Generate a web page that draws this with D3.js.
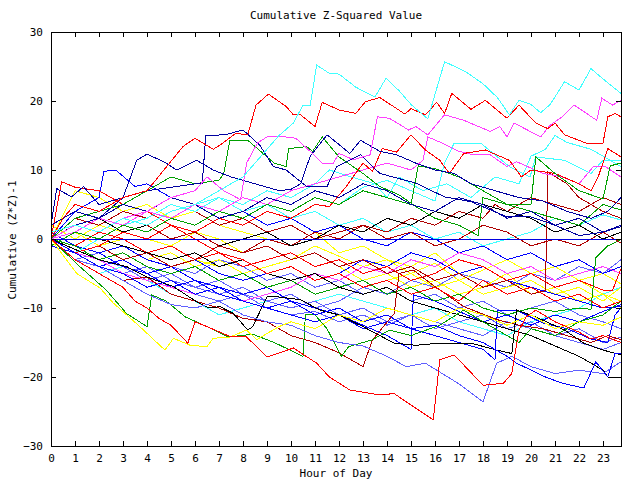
<!DOCTYPE html>
<html>
<head>
<meta charset="utf-8">
<script src="https://cdn.jsdelivr.net/npm/d3@7/dist/d3.min.js"></script>
<style>
  body { margin: 0; background: #fff; }
  svg text { font-family: "DejaVu Sans Mono", "Liberation Mono", monospace; font-size: 11px; fill: #000; }
</style>
</head>
<body>
<svg id="chart" width="640" height="480"></svg>
<script>
// tick values
const hourTicks = d3.range(0, 24);
const valueTicks = [-30, -20, -10, 0, 10, 20, 30];

// series as [hour, cumulative value]
const cyanTop = [[0,1],[1,2],[2,1],[3,3],[4,2],[5,4],[6,5],[7,7],[8,9],[9,13],[9.5,15],[10.1,16.8],[10.5,19.4],[10.8,19.4],[11.07,25.2],[11.6,24],[12,23.9],[12.7,22],[13.5,20.6],[13.96,23.3],[14.5,21.5],[15,19.5],[15.7,17.4],[16.4,25.7],[17.3,24.2],[18,22.5],[18.6,20.5],[19.1,18],[19.5,20.1],[20,19.5],[20.4,18.3],[20.8,19.5],[21.4,22.8],[22,21.6],[22.5,24.7],[23,23.2],[23.75,21.1]];
const redTop = [[0,0],[0.5,3],[1,5],[2,4],[3,6],[4,7],[4.26,8.1],[5.5,13.4],[6,14.6],[6.76,13],[7.04,13.6],[7.5,14.8],[7.7,15.3],[8.2,15.1],[8.54,19.4],[9.06,21],[9.8,19.2],[10.1,18],[10.4,18],[11,16.3],[11.3,19.8],[12,18.7],[12.7,18.2],[13.1,19.9],[13.7,20.5],[14.75,18.1],[15,18.9],[15.6,18],[16.07,19.8],[16.4,18.2],[16.7,21.1],[17.5,18.8],[18.1,20.1],[19,17.5],[19.5,19.4],[20.2,16.8],[20.7,16],[21,16.8],[21.4,15.1],[22.3,13.9],[23,13.9],[23.2,17.7],[23.5,18.2],[23.75,17.7]];
const magentaTop = [[0,0],[1,2],[2,1],[3,3],[4,4],[5,6],[6,7],[6.5,9],[7.2,7],[7.9,5.7],[8.15,11],[8.6,13.9],[9,14.8],[9.75,14.8],[10.2,14.6],[10.8,12.7],[11.3,11],[11.76,11],[12,12.4],[12.6,11.5],[13.3,12.2],[13.6,17.7],[14.1,17.5],[14.9,15.8],[15.2,16.3],[15.7,15.1],[16.4,18],[17.2,17.2],[18.3,15.6],[18.7,16.3],[19,14.8],[19.3,16.8],[20.4,14.8],[20.8,16.5],[21.3,17.7],[21.8,19.4],[22.74,17.2],[22.95,20.4],[23.4,19.4],[23.75,20.1]];
const navyA = [[0,2],[0.24,7.3],[0.86,6.1],[1.35,7.6],[2,5],[3,6],[4,7],[5,7.5],[6,8],[6.3,8],[6.45,15],[7.25,15.1],[8,15.8],[8.7,13.6],[9.26,10.5],[9.8,10],[10.65,7.6],[11.5,7.6],[11.9,10.5],[12.9,12.2],[13.7,9.5],[15.2,8.1],[16.4,6.1],[17.5,5.4],[19,3.2],[20,3.2],[21,2],[22,0.5],[23,1],[23.75,1.8]];
const navyB = [[0,1],[1,2],[2,3],[3,6],[3.57,11.4],[4,12.3],[4.7,11.2],[5.24,10],[6.07,11.4],[6.76,10],[7.5,9],[8.5,8],[9.5,7],[10,7.2],[10.4,8],[10.8,12],[11.5,15.1],[12,13.7],[12.45,12.4],[12.9,14.3],[13.7,12.7],[14.4,12.2],[15.2,11],[16,10],[16.8,9.5],[17.5,8],[18.5,7],[19.5,6],[20.5,5.5],[21.5,4],[22.5,3],[23.2,4],[23.75,6]];
const navyC = [[0,2],[1,4],[2,3],[3,5],[4,4],[5,6],[6,5],[7,3],[8,4],[9,6],[10,5],[11,7],[12,6],[13,8],[14,7],[15,5],[16,4],[17,6],[18,5],[19,3],[20,4],[21,2],[22,3],[23,1],[23.75,2]];
const greenA = [[0,0],[1,3],[2,4],[3,5],[4,7],[5,9],[6,8],[7,8.5],[7.2,9.5],[7.45,14.3],[8.2,14.3],[9.3,11],[9.8,10.5],[9.9,13.1],[10.65,13.4],[10.9,12.7],[11.3,14.8],[12,11.9],[13,9.5],[13.7,7.6],[14.5,6.4],[15.2,4.7],[16,3],[17,2],[17.8,0.5],[18,6],[19,5],[20,4],[21,3],[22,2],[23,5],[23.75,4.2]];
const greenB = [[0,-1],[1,1],[2,0],[3,2],[4,1],[5,3],[6,2],[7,4],[8,3],[9,5],[10,4],[11,6],[12,5],[13,7],[14,6],[15,5],[15.3,10.6],[16,10.2],[17,9],[18,7],[19,5],[20,5],[20.2,11.9],[21,9.5],[22,7],[23,5.8],[23.3,10.6],[23.75,11]];
const redB = [[0,0],[1,-2],[2,-1],[3,1],[4,0],[5,2],[6,1],[7,3],[8,2],[9,4],[10,3],[11,5],[11.6,4.7],[12.3,7.6],[13,11],[13.4,9.8],[13.8,13.1],[14.4,12.6],[15,15.1],[15.6,12.9],[16.2,11.4],[16.6,9.5],[17.2,12.4],[18.1,12.9],[19.1,11.4],[19.6,9],[20,10],[21,9.5],[22,8],[22.5,7],[22.8,9],[23.2,13.1],[23.75,11.9]];
const redC = [[0,0],[0.44,8.3],[1,7.5],[2,7],[3,5],[4,4],[5,2],[6,0],[7,-2],[8,-3],[9,-5],[10,-4],[11,-6],[12,-5],[13,-7],[14,-6],[15,-8],[16,-7],[17,-9],[18,-6],[19,-8],[20,-7],[21,-9],[22,-8],[23,-10],[23.75,-9]];
const redBottom = [[0,0],[1,-3],[2,-5],[3,-7],[3.5,-9],[4,-10],[4.5,-11.5],[5,-12.5],[5.7,-15.1],[6,-12],[6.5,-12.7],[7.5,-14.2],[8.15,-14.2],[9,-17.1],[10.1,-15.8],[11.07,-18],[11.6,-20],[12.46,-21.9],[13.7,-22.6],[14.3,-22.4],[14.8,-23.6],[15.93,-26.2],[16.2,-17.5],[16.8,-16.8],[18,-21.2],[18.85,-20.9],[19.2,-19.5],[19.5,-13.2],[19.8,-11.3],[20.2,-10.3],[21,-12],[22,-13.5],[22.5,-14.5],[23,-14],[23.75,-15]];
const yellowBottom = [[0,0],[1.07,-5],[2.04,-7.1],[2.6,-9.3],[3.7,-12.7],[4.75,-16.1],[5.1,-14.4],[5.8,-15.4],[6.5,-15.6],[6.76,-14.4],[7.45,-14.2],[8.15,-13.2],[8.57,-14.6],[9,-13.7],[9.5,-12.7],[10,-12],[11,-13],[12,-11],[13,-12],[14,-10],[15,-11],[16,-12],[17,-10],[18,-11],[19,-12.5],[20,-11],[21,-13],[22,-12],[23,-12.5],[23.75,-11.3]];
const blueBottom = [[0,0],[1,-2],[2,-4],[3,-5],[4,-7],[5,-6],[6,-8],[7,-7],[8,-9],[9,-10],[10,-9],[11,-11],[12,-10],[13,-12],[14,-11],[15,-13],[16,-12.5],[17,-14],[18,-15],[19,-17],[19.4,-18],[20.6,-20],[21.3,-20.9],[22.2,-21.6],[22.7,-17.8],[23.2,-20],[23.5,-16.6],[23.75,-16.6]];
const slateBottom = [[0,0],[1,-3],[2,-4],[3,-6],[4,-8],[5,-9.5],[6,-10],[7,-9],[8,-11],[9,-12],[10,-12.5],[11,-14],[12,-15],[13,-15.5],[14,-17],[14.8,-18.5],[15.6,-18],[16.3,-19.5],[17,-21],[18,-23.6],[18.57,-18],[19.2,-17],[20,-18.5],[21,-19.5],[22,-19],[23,-19.5],[23.75,-17.8]];
const blackA = [[0,0],[1,-1.5],[2,-3],[3.15,-4],[4,-5.5],[5.1,-6.9],[6.07,-9.1],[6.6,-10],[7.04,-9.8],[7.6,-10.8],[8.2,-13.2],[8.4,-12.7],[9,-8.4],[9.5,-8.4],[10.4,-8.8],[11.2,-10.3],[12,-11],[13,-12.7],[14.3,-15.1],[15.2,-15.4],[16.2,-15.1],[17.5,-15.1],[18.57,-16.1],[19.2,-16.6],[19.4,-10.3],[20.2,-11.3],[21.4,-13.2],[22.2,-15.1],[23,-16.1],[23.75,-16.8]];
const blackB = [[0,0],[1,1],[2,0],[3,-1],[4,-2],[5,-3],[6,-2],[7,-4],[8,-3],[9,-5],[10,-6],[11,-5],[12,-7],[13,-8],[14,-7],[15,-9],[16,-10],[17,-11],[18,-12],[19,-13],[20,-14],[21,-15.5],[22,-17],[23,-19],[23.2,-20],[23.75,-20]];
const blackC = [[0,0],[1,2],[2,3],[3,1],[4,2],[5,0],[6,1],[7,-1],[8,0],[9,1],[10,-1],[11,0],[12,2],[13,1],[14,3],[15,2],[16,4],[17,3],[18,5],[19,4],[20,3],[21,1],[22,2],[23,0],[23.75,1]];
const greenBottom = [[0,0],[1.2,-4],[2.3,-7.4],[3.15,-10.8],[4,-12.7],[4.2,-8.1],[4.8,-9],[5.6,-11.3],[6.5,-12.7],[7.4,-14.2],[8.4,-13.8],[9.3,-15],[10.5,-17],[10.6,-11],[11,-11],[11.5,-13],[12.1,-17],[12.4,-15.6],[13.4,-14.6],[14.1,-13.2],[15,-14],[16.2,-12.5],[17.2,-10.3],[18,-12],[19,-14],[19.5,-15],[20,-13],[21,-14],[22,-12],[23,-11],[23.75,-9]];
const darkRedA = [[0,0],[1,-3],[2,-4],[3,-6],[4,-5.5],[5,-8],[6,-9],[7,-10],[8,-11.5],[9,-12],[10,-14],[11,-15],[12,-16.5],[13,-18.5],[13.4,-14.6],[14.3,-10.8],[14.5,-5],[15.1,-4.5],[15.8,-6.4],[17.2,-9.8],[18.6,-11.7],[19.5,-12.5],[20.5,-13],[21.5,-14],[22.5,-15],[23.2,-14],[23.75,-14.6]];
const darkRedB = [[0,0],[1,2],[2,1],[3,3],[4,2],[5,0],[6,1],[7,-1],[8,-2],[9,-1],[10,-3],[11,-2],[12,-4],[13,-3],[14,-5],[15,-4],[16,-6],[17,-5],[18,-7],[19,-6],[20,-8],[20.6,-7.5],[20.7,9.7],[21.5,8],[22,6],[23,4],[23.75,3]];
const darkRedC = [[0,0],[1,3],[2,2],[3,4],[4,3],[5,5],[6,4],[7,2],[8,3],[9,1],[10,2],[11,0],[12,1],[13,2],[14,0],[15,1],[16,-1],[17,0],[18,2],[19,1],[20,-1],[21,0],[22,-1],[23,1],[23.75,-0.6]];
const darkRedD = [[0,0],[1,-2],[2,-1],[3,-3],[4,-2],[5,-4],[6,-3],[7,-1],[8,-2],[9,0],[10,-1],[11,1],[12,0],[13,2],[14,1],[15,3],[16,2],[17,4],[18,3],[18.5,5],[19,4],[20,6],[21,5],[22,4],[23,6],[23.75,5]];
const zeroSeries = [[0.2,0],[23.75,0]];
const cyanB = [[0,0],[1,-2],[2,0],[3,2],[4,1],[5,3],[6,2],[7,4],[8,3],[9,5],[10,4],[11,6],[12,5],[13,7.5],[14,8.5],[15,7],[16,5.5],[16.4,11],[16.8,13.9],[17.9,13.9],[19.1,10.5],[19.96,9],[20.2,11.9],[21.4,11.4],[22.5,9.5],[23,11.4],[23.75,11.4]];
const cyanC = [[0,0],[1,-3],[2,-5],[3,-4],[4,-6],[5,-8],[6,-9],[7,-11],[8,-10],[9,-9],[10,-10],[11,-9],[12,-8],[13,-9],[14,-10],[15,-11],[16,-10],[17,-12],[18,-13],[19,-14],[20,-12],[21,-11],[22,-10],[23,-8],[23.75,-7]];
const cyanD = [[0,0],[1,1],[2,3],[3,2],[4,4],[5,3],[6,5],[7,6],[8,4],[9,5],[10,3],[11,4],[12,2],[13,3],[14,1],[15,2],[16,0],[17,1],[18,-1],[19,0],[20,1],[21,3],[22,2],[23,3.5],[23.75,2.75]];
const cyanE = [[0,-1],[1,1],[2,0],[3,2],[4,3],[5,5],[6,4],[7,6],[8,5],[9,7],[10,6],[11,8],[11.6,10],[12.5,9],[13.5,8],[14,6],[14.5,9],[15.5,7],[16.5,8],[17.5,6],[18.5,9],[19.5,8],[20,12],[20.6,13],[21,15],[21.5,14],[22.5,13],[23,12],[23.75,10.5]];
const slateA = [[0,0],[1,-2],[2,-3],[3,-5],[4,-4],[5,-6],[6,-7],[7,-6],[8,-8],[9,-9],[10,-8],[11,-10],[12,-9],[13,-7],[14,-8],[15,-6],[16,-7],[17,-5],[18,-6],[19,-7],[20,-5],[21,-6],[22,-4],[23,-5],[23.75,-3]];
const slateB = [[0,0],[1,-1],[2,-3],[3,-4],[4,-6],[5,-7],[6,-8],[7,-9],[8,-8],[9,-10],[10,-11],[11,-10.5],[12,-12],[13,-11],[14,-12.5],[15,-11],[16,-12],[17,-13],[18,-14],[19,-12],[20,-13],[21,-14],[22,-13],[23,-15],[23.75,-14.2]];
const slateC = [[0,-1],[1,-2],[2,-1],[3,-3],[4,-2],[5,-4],[6,-5],[7,-3],[8,-4],[9,-6],[10,-5],[11,-7],[12,-6],[13,-8],[14,-7],[15,-9],[16,-8],[17,-10],[18,-9],[19,-11],[20,-10],[21,-9],[22,-11],[23,-12],[23.75,-13]];
const slateD = [[0,0],[1,-3],[2,-2],[3,-4],[4,-6],[5,-5],[6,-7],[7,-8],[8,-7],[9,-9],[10,-10],[11,-9],[12,-11],[13,-10],[14,-12],[15,-11],[16,-13],[17,-12],[18,-11],[19,-13],[20,-12],[21,-14],[22,-15],[23,-16],[23.75,-15]];
const yellowB = [[0,0],[1,1],[2,-1],[3,0],[4,-2],[5,-1],[6,-3],[7,-4],[8,-3],[9,-5],[10,-4],[11,-6],[12,-5],[13,-7],[14,-6],[15,-5],[16,-7],[17,-6],[18,-8],[19,-7],[20,-6],[21,-8],[22,-7],[23,-9],[23.75,-7]];
const yellowC = [[0,0],[1,7],[2,6],[3,4],[4,5],[5,3],[6,4],[7,2],[8,1],[9,0],[10,-1],[11,1],[12,-2],[13,-1],[14,-3],[15,-4],[16,-2],[17,-5],[18,-4],[19,-6],[20,-5],[21,-7],[22,-6],[23,-8],[23.75,-9]];
const yellowD = [[0,1],[1,-1],[2,-2],[3,-1],[4,-3],[5,-2],[6,-4],[7,-3],[8,-5],[9,-4],[10,-3],[11,-1],[12,-2.5],[13,-4],[14,-3],[15,-5],[16,-3.5],[17,-6],[18,-4.5],[19,-3],[20,-5],[21,-4],[22,-6],[23,-5],[23.75,-6.5]];
const yellowE = [[0,2],[1,0],[2,2],[3,1],[4,0],[5,-1],[6,1],[7,0],[8,-2],[9,-1],[10,-3],[11,-2],[12,-4],[13,-6],[14,-5],[15,-7],[16,-6],[17,-8],[18,-7],[19,-5],[20,-8],[21,-7],[22,-9],[23,-8],[23.75,-10]];
const blueMid = [[0,0],[1,-1],[2,-2],[3,-1],[4,-3],[5,-4],[6,-3],[7,-5],[8,-6],[9,-5],[10,-4],[11,-6],[12,-5],[13,-3],[14,-4],[15,-2],[16,-3],[17,-5],[18,-4],[19,-6],[20,-7],[21,-8],[22,-9],[23,-10],[23.75,-9.8]];
const blueJumpA = [[0,1],[1,-1],[2,-2],[3,-4],[4,-5],[5,-4],[6,-6],[7,-7],[8,-8],[9,-7],[10,-9],[11,-10],[12,-11],[13,-12.5],[14,-14],[15,-16],[15.1,-8.1],[16,-9],[17,-10.5],[18,-12],[19,-11],[20,-12.5],[21,-11],[22,-12],[23,-10.5],[23.75,-9.5]];
const blueJumpB = [[0,-1],[1,-2],[2,-4],[3,-3],[4,-5],[5,-7],[6,-6],[7,-8],[8,-9],[9,-10],[10,-11],[11,-12],[12,-11],[13,-13],[14,-12],[15,-13],[16,-14],[17,-15],[18,-16],[18.5,-17.5],[18.6,-10.3],[19.4,-10.3],[20.5,-12.2],[21.5,-13],[22.5,-14.5],[23.2,-15],[23.5,-11],[23.75,-10]];
const blueB = [[0,0],[1,4],[2,6],[2.2,9.8],[2.7,10],[3.5,7.6],[4,8],[5,6],[6,5],[7,3],[8,4],[9,2],[10,3],[11,1],[12,2],[13,0],[14,-1],[15,1],[16,0],[17,-2],[18,-1],[19,-3],[20,-2],[21,-4],[22,-3],[23,-5],[23.75,-4]];
const magentaMid = [[0,0],[1,1],[2,3],[3,2],[4,4],[5,3],[6,5],[7,4],[8,6],[9,5],[10,7],[11,8],[12,9],[13,10],[14,11],[15,10],[15.5,11.4],[15.7,14.8],[16.3,13.9],[17,12.7],[17.6,12.2],[18.3,12.2],[19,10.5],[19.4,11.2],[20.5,9.5],[21.3,9],[22,8],[22.6,10.5],[23.1,10.5],[23.75,9]];
const magentaLow = [[0,0],[1,-2],[2,-3],[3,-5],[4,-6],[5,-7],[6,-8],[7,-7],[8,-9],[9,-8],[10,-7],[11,-5],[12,-6],[13,-4],[14,-5],[15,-3],[16,-4],[17,-2],[18,-3],[19,-5],[20,-4],[21,-6],[22,-5],[23,-4],[23.75,-5]];
const redD = [[0,0],[1,-1],[2,1],[3,0],[4,-2],[5,-1],[6,-3],[7,-2],[8,-4],[9,-3],[10,-2],[11,-4],[12,-3],[13,-5],[14,-4],[15,-6],[16,-5],[17,-3],[18,-4],[19,-6],[20,-5],[21,-7],[22,-6],[23,-7.4],[23.4,-7.4],[23.75,-4.3]];
const greenD = [[0,0],[1,-1],[2,-3],[3,-2],[4,-4],[5,-5],[6,-4],[7,-6],[8,-5],[9,-7],[10,-6],[11,-8],[12,-7],[13,-6],[14,-8],[15,-7],[16,-9],[17,-8],[18,-10],[19,-11],[20,-10],[21,-10.5],[22,-10],[22.5,-10.2],[22.7,-2.7],[23.2,-1],[23.75,-0.1]];

const seriesData = [
  cyanC, slateA, slateB, slateC, slateD, yellowB, yellowC, yellowD, yellowE,
  blueMid, blueJumpA, blueJumpB, blueB, magentaLow, redD, greenD, cyanD, darkRedC, darkRedD,
  blackC, blackB, darkRedA, darkRedB, greenBottom, cyanB, cyanE, magentaMid, redC, redB,
  greenA, greenB, navyA, navyB, navyC, blackA, slateBottom, blueBottom, yellowBottom,
  redBottom, magentaTop, redTop, cyanTop, zeroSeries
];
const seriesColors = [
  '#40ffff', '#6060ff', '#6060ff', '#6060ff', '#6060ff', '#ffff00', '#ffff00', '#ffff00', '#ffff00',
  '#0000ff', '#0000ff', '#0000ff', '#0000ff', '#ff40ff', '#ff0000', '#00a000', '#40ffff', '#b00000', '#b00000',
  '#000000', '#000000', '#b00000', '#b00000', '#00a000', '#40ffff', '#40ffff', '#ff40ff', '#ff0000', '#ff0000',
  '#00a000', '#00a000', '#0000a0', '#0000a0', '#0000a0', '#000000', '#6060ff', '#0000ff', '#ffff00',
  '#ff0000', '#ff40ff', '#ff0000', '#40ffff', '#0000e0'
];

const svg = d3.select('#chart');
const plot = { left: 51, right: 621, top: 32, bottom: 446 };

const x = d3.scaleLinear().domain([0, 23.75]).range([plot.left, plot.right]);
const y = d3.scaleLinear().domain([-30, 30]).range([plot.bottom, plot.top]);

// lines first, frame on top
const line = d3.line().x(d => x(d[0])).y(d => y(d[1]));
svg.append('g')
  .selectAll('path')
  .data(seriesData)
  .enter()
  .append('path')
  .attr('d', line)
  .attr('fill', 'none')
  .attr('stroke', (d, i) => seriesColors[i])
  .attr('stroke-width', 1)
  .attr('shape-rendering', 'crispEdges');

// axes with inward ticks
const bottomAxis = d3.axisBottom(x).tickValues(hourTicks).tickSize(-5).tickSizeOuter(0).tickPadding(8);
const topAxis = d3.axisTop(x).tickValues(hourTicks).tickSize(-5).tickSizeOuter(0).tickFormat('');
const leftAxis = d3.axisLeft(y).tickValues(valueTicks).tickSize(-5).tickSizeOuter(0).tickPadding(8);
const rightAxis = d3.axisRight(y).tickValues(valueTicks).tickSize(-5).tickSizeOuter(0).tickFormat('');

svg.append('g').attr('transform', `translate(0,${plot.bottom})`).call(bottomAxis);
svg.append('g').attr('transform', `translate(0,${plot.top})`).call(topAxis);
svg.append('g').attr('transform', `translate(${plot.left},0)`).call(leftAxis);
svg.append('g').attr('transform', `translate(${plot.right},0)`).call(rightAxis);

svg.selectAll('.tick line, .domain')
  .attr('stroke', '#000')
  .attr('shape-rendering', 'crispEdges');
svg.selectAll('.tick text')
  .attr('font-family', '"DejaVu Sans Mono", monospace')
  .attr('font-size', 11);

// titles
svg.append('text')
  .attr('x', 336).attr('y', 19)
  .attr('text-anchor', 'middle')
  .text('Cumulative Z-Squared Value');

svg.append('text')
  .attr('x', 336).attr('y', 477)
  .attr('text-anchor', 'middle')
  .text('Hour of Day');

svg.append('text')
  .attr('transform', 'translate(16,240) rotate(-90)')
  .attr('text-anchor', 'middle')
  .text('Cumulative (Z*Z)-1');
</script>
</body>
</html>
